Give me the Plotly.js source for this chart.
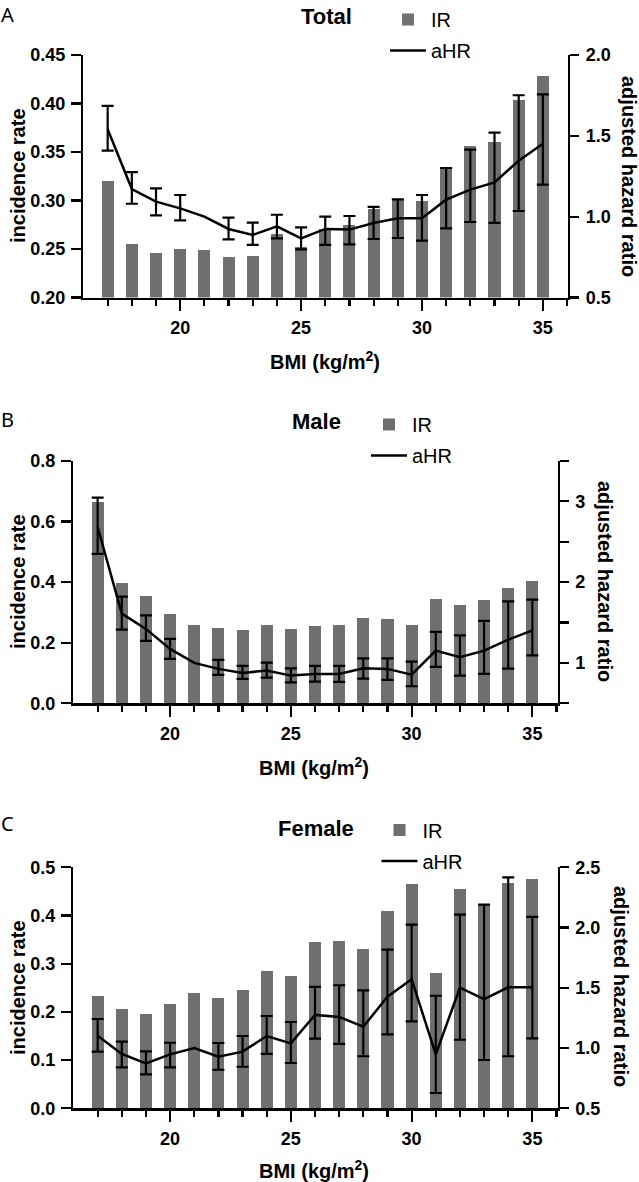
<!DOCTYPE html>
<html>
<head>
<meta charset="utf-8">
<script src="https://cdn.plot.ly/plotly-3.0.1.min.js"></script>
<style>
  html, body { margin: 0; padding: 0; background: #fff; }
  #chart { width: 639px; height: 1182px; }
</style>
</head>
<body>
<div id="chart"></div>
<script>
// ---------------- data ----------------
const bmi = [17, 18, 19, 20, 21, 22, 23, 24, 25, 26, 27, 28, 29, 30, 31, 32, 33, 34, 35];

// Total
const irTotal   = [0.320, 0.255, 0.246, 0.250, 0.249, 0.242, 0.243, 0.265, 0.252, 0.271, 0.275, 0.291, 0.302, 0.300, 0.334, 0.356, 0.360, 0.404, 0.428];
const hrTotal   = [1.541, 1.171, 1.093, 1.051, 1.000, 0.924, 0.887, 0.940, 0.866, 0.924, 0.920, 0.961, 0.990, 0.990, 1.105, 1.167, 1.212, 1.346, 1.451];
const hrTotalLo = [1.409, 1.080, 1.008, 0.977, null, 0.860, 0.825, 0.866, 0.798, 0.825, 0.829, 0.862, 0.868, 0.852, 0.928, 0.967, 0.961, 1.035, 1.198];
const hrTotalHi = [1.685, 1.276, 1.175, 1.134, null, 0.994, 0.963, 1.012, 0.934, 1.000, 1.004, 1.060, 1.107, 1.134, 1.301, 1.415, 1.520, 1.751, 1.757];

// Male
const irMale   = [0.664, 0.397, 0.355, 0.294, 0.258, 0.249, 0.242, 0.259, 0.244, 0.256, 0.258, 0.282, 0.279, 0.258, 0.345, 0.323, 0.340, 0.381, 0.405];
const hrMale   = [2.683, 1.610, 1.421, 1.173, 1.000, 0.926, 0.876, 0.905, 0.843, 0.864, 0.864, 0.933, 0.926, 0.855, 1.152, 1.070, 1.152, 1.288, 1.403];
const hrMaleLo = [2.349, 1.412, 1.272, 1.050, null, 0.851, 0.802, 0.818, 0.760, 0.769, 0.765, 0.806, 0.790, 0.711, 0.950, 0.843, 0.864, 0.929, 1.094];
const hrMaleHi = [3.046, 1.821, 1.589, 1.297, null, 1.037, 0.963, 1.004, 0.933, 0.963, 0.963, 1.057, 1.057, 1.016, 1.384, 1.342, 1.520, 1.762, 1.783];

// Female
const irFemale   = [0.234, 0.205, 0.196, 0.217, 0.240, 0.229, 0.245, 0.285, 0.274, 0.346, 0.347, 0.331, 0.409, 0.466, 0.281, 0.455, 0.422, 0.467, 0.476];
const hrFemale   = [1.103, 0.951, 0.873, 0.948, 1.000, 0.928, 0.970, 1.100, 1.039, 1.275, 1.258, 1.177, 1.426, 1.571, 0.948, 1.501, 1.407, 1.504, 1.504];
const hrFemaleLo = [0.970, 0.840, 0.782, 0.840, null, 0.820, 0.845, 0.951, 0.876, 1.078, 1.034, 0.932, 1.114, 1.222, 0.627, 1.069, 0.901, 0.932, 1.081];
const hrFemaleHi = [1.241, 1.053, 0.973, 1.044, null, 1.042, 1.100, 1.266, 1.216, 1.507, 1.521, 1.479, 1.816, 2.024, 1.434, 2.107, 2.190, 2.417, 2.088];

// text
const panelLetters = ['A', 'B', 'C'];
const panelTitles = ['Total', 'Male', 'Female'];
const irName = 'IR';
const hrName = 'aHR';
const xTitle = 'BMI (kg/m<sup>2</sup>)';
const yLeftTitle = 'incidence rate';
const yRightTitle = 'adjusted hazard ratio';
const xMajorTicks = [20, 25, 30, 35];
const xMinorTicks = [17, 18, 19, 21, 22, 23, 24, 26, 27, 28, 29, 31, 32, 33, 34, 36];

// ---------------- layout helpers ----------------
const W = 639, H = 1182;
const px = v => v / W;
const py = v => 1 - v / H;

const BAR = '#6f6f6f';
const FONT = 'Liberation Sans, Arial, Helvetica, sans-serif';
const tickFont = { family: FONT, size: 18, weight: 'bold', color: '#000' };

function errArrays(c, lo, hi) {
  const plus = c.map((v, i) => hi[i] == null ? NaN : hi[i] - v);
  const minus = c.map((v, i) => lo[i] == null ? NaN : v - lo[i]);
  return { plus, minus };
}

const panels = [
  { ir: irTotal, hr: hrTotal, lo: hrTotalLo, hi: hrTotalHi,
    xd: [83, 568], yd: [55, 297.5], yl: [0.20, 0.45], yldt: 0.05, ylfmt: '.2f',
    yr: [0.5, 2.0], yrvals: [0.5, 1.0, 1.5, 2.0], yrtext: ['0.5', '1.0', '1.5', '2.0'], yrminor: [],
    letter: [0, 0], title: [326, 17], leg: [385, -0.5],
    ylt: [18, 176], yrt: [629, 176], xt: [325, 360] },
  { ir: irMale, hr: hrMale, lo: hrMaleLo, hi: hrMaleHi,
    xd: [73, 557.5], yd: [461, 703.3], yl: [0, 0.8], yldt: 0.2, ylfmt: '.1f',
    yr: [0.5, 3.5], yrvals: [1, 2, 3], yrtext: ['1', '2', '3'], yrminor: [0.5, 1.5, 2.5, 3.5],
    letter: [0, 405], title: [316, 422], leg: [366, 405],
    ylt: [18, 582], yrt: [605, 581], xt: [314, 766] },
  { ir: irFemale, hr: hrFemale, lo: hrFemaleLo, hi: hrFemaleHi,
    xd: [73, 557.5], yd: [867.3, 1108.3], yl: [0, 0.5], yldt: 0.1, ylfmt: '.1f',
    yr: [0.5, 2.5], yrvals: [0.5, 1.0, 1.5, 2.0, 2.5], yrtext: ['0.5', '1.0', '1.5', '2.0', '2.5'], yrminor: [],
    letter: [0, 809], title: [316, 828], leg: [376.5, 810.5],
    ylt: [18, 988], yrt: [621, 986], xt: [314, 1169] }
];

const data = [];
const layout = {
  width: W, height: H,
  margin: { l: 0, r: 0, t: 0, b: 0, pad: 0 },
  paper_bgcolor: '#fff', plot_bgcolor: 'rgba(0,0,0,0)',
  font: { family: FONT, color: '#000' },
  showlegend: true,
  bargap: 0,
  annotations: []
};

panels.forEach((p, k) => {
  const xi = k + 1;
  const xName = xi === 1 ? 'x' : 'x' + xi;
  const yL = 2 * k + 1, yR = 2 * k + 2;
  const yLName = yL === 1 ? 'y' : 'y' + yL;
  const yRName = 'y' + yR;
  const legName = k === 0 ? 'legend' : 'legend' + (k + 1);
  const e = errArrays(p.hr, p.lo, p.hi);

  data.push({
    type: 'bar', x: bmi, y: p.ir, width: 0.5, name: irName,
    marker: { color: BAR, line: { width: 0 } },
    xaxis: xName, yaxis: yLName, legend: legName, legendgroup: 'ir' + k,
    hoverinfo: 'skip'
  });
  data.push({
    type: 'scatter', mode: 'lines', x: bmi, y: p.hr, name: hrName,
    line: { color: '#000', width: 2.5 },
    error_y: { type: 'data', symmetric: false, array: e.plus, arrayminus: e.minus,
               color: '#000', thickness: 2.2, width: 6 },
    xaxis: xName, yaxis: yRName, legend: legName, legendgroup: 'hr' + k,
    hoverinfo: 'skip'
  });

  const xKey = xi === 1 ? 'xaxis' : 'xaxis' + xi;
  layout[xKey] = {
    domain: [px(p.xd[0]), px(p.xd[1])],
    anchor: yLName,
    range: [15.98, 36.04],
    showgrid: false, zeroline: false,
    showline: true, linecolor: '#000', linewidth: 2.2,
    ticks: 'outside', ticklen: 11, tickwidth: 2.2, tickcolor: '#000',
    tickmode: 'array', tickvals: xMajorTicks, ticktext: xMajorTicks.map(String),
    tickfont: tickFont, ticklabelstandoff: 2,
    minor: { tickmode: 'array', tickvals: xMinorTicks, ticks: 'outside', ticklen: 6,
             tickwidth: 2.2, tickcolor: '#000', showgrid: false },
    fixedrange: true
  };
  const yLKey = yL === 1 ? 'yaxis' : 'yaxis' + yL;
  layout[yLKey] = {
    domain: [py(p.yd[1]), py(p.yd[0])],
    anchor: xName,
    range: p.yl,
    showgrid: false, zeroline: false,
    showline: true, linecolor: '#000', linewidth: 2.2,
    ticks: 'outside', ticklen: 10, tickwidth: 2.2, tickcolor: '#000',
    tick0: 0, dtick: p.yldt, tickformat: p.ylfmt,
    tickfont: tickFont, ticklabelstandoff: 2,
    fixedrange: true
  };
  const yRAxis = {
    overlaying: yLName, side: 'right', anchor: xName,
    range: p.yr,
    showgrid: false, zeroline: false,
    showline: true, linecolor: '#000', linewidth: 2.2,
    ticks: 'outside', ticklen: 9, tickwidth: 2.2, tickcolor: '#000',
    tickmode: 'array', tickvals: p.yrvals, ticktext: p.yrtext,
    tickfont: tickFont, ticklabelstandoff: 3,
    fixedrange: true
  };
  if (p.yrminor.length) {
    yRAxis.minor = { tickmode: 'array', tickvals: p.yrminor, ticks: 'outside', ticklen: 9,
                     tickwidth: 2.2, tickcolor: '#000', showgrid: false };
  }
  layout['yaxis' + yR] = yRAxis;
  layout[legName] = {
    x: px(p.leg[0]), y: py(p.leg[1]), xanchor: 'left', yanchor: 'top',
    xref: 'paper', yref: 'paper',
    bgcolor: 'rgba(0,0,0,0)', borderwidth: 0,
    font: { family: FONT, size: 20, color: '#000' },
    traceorder: 'grouped', tracegroupgap: 2,
    itemwidth: 36
  };

  const ann = (text, x, y, opts) => Object.assign({
    text, x: px(x), y: py(y), xref: 'paper', yref: 'paper',
    xanchor: 'center', yanchor: 'middle', showarrow: false
  }, opts || {});

  layout.annotations.push(ann(panelLetters[k], p.letter[0], p.letter[1],
    { xanchor: 'left', yanchor: 'top', borderpad: 0,
      font: { family: 'Noto Sans, DejaVu Sans, sans-serif', size: 20, color: '#000' } }));
  layout.annotations.push(ann(panelTitles[k], p.title[0], p.title[1],
    { font: { family: FONT, size: 22, weight: 'bold', color: '#000' } }));
  layout.annotations.push(ann(yLeftTitle, p.ylt[0], p.ylt[1],
    { textangle: -90, font: { family: FONT, size: 20, weight: 'bold', color: '#000' } }));
  layout.annotations.push(ann(yRightTitle, p.yrt[0], p.yrt[1],
    { textangle: 90, font: { family: FONT, size: 20, weight: 'bold', color: '#000' } }));
  layout.annotations.push(ann(xTitle, p.xt[0], p.xt[1],
    { font: { family: FONT, size: 20, weight: 'bold', color: '#000' } }));
});

Plotly.newPlot('chart', data, layout, { staticPlot: true, displayModeBar: false });
</script>
</body>
</html>
